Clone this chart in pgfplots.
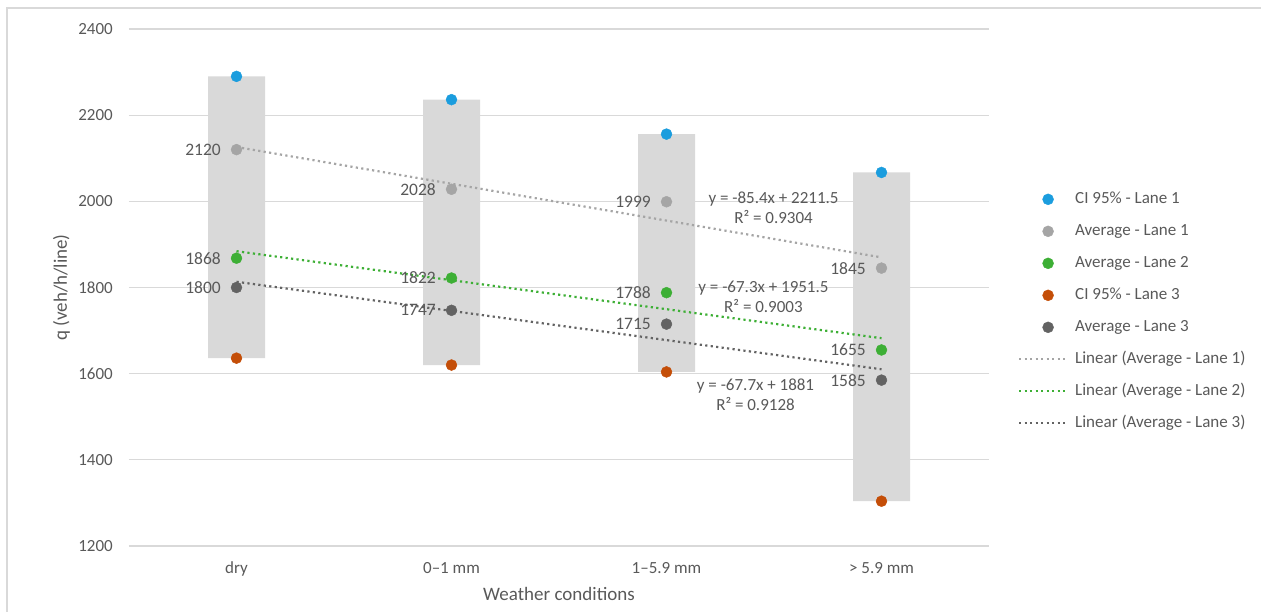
\documentclass[border=0pt]{standalone}
\usepackage{pgfplots}
\pgfplotsset{compat=1.18}
\usepackage{pgfplotstable}
\usepackage{fontspec}
\setmainfont{Carlito}
\definecolor{txt}{HTML}{595959}
\definecolor{cblue}{HTML}{1B9DDE}
\definecolor{clgray}{HTML}{A5A5A5}
\definecolor{cgreen}{HTML}{3DAF35}
\definecolor{corange}{HTML}{C44E08}
\definecolor{cdgray}{HTML}{636363}
\definecolor{cbar}{HTML}{D9D9D9}
\definecolor{cgrid}{HTML}{D9D9D9}
\pgfplotsset{
  markleg/.style={legend image code/.code={\path[draw=none, fill=none] (0pt,0pt) -- (47pt,0pt); \draw[##1] plot coordinates {(29pt,0pt)};}},
  lineleg/.style={legend image code/.code={\draw[##1] (0pt,0pt) -- (47pt,0pt);}},
}
\pgfplotstableread{
x  lo    hi    avgA  avgB  avgC
1  1636  2290  2120  1868  1800
2  1620  2236  2028  1822  1747
3  1604  2156  1999  1788  1715
4  1304  2067  1845  1655  1585
}\datatab
\begin{document}
\begin{tikzpicture}[x=1pt,y=1pt]
\useasboundingbox (0,0) rectangle (1261,612);
\draw[cgrid, line width=1.2pt] (7,0) -- (7,604) -- (1261,604);
\begin{axis}[
  at={(129pt,66pt)}, anchor=south west,
  scale only axis, width=860pt, height=517pt,
  xmin=0.5, xmax=4.5, ymin=1200, ymax=2400,
  xtick={1,2,3,4}, xticklabels={dry, 0–1 mm, 1–5.9 mm, > 5.9 mm},
  ytick={1200,1400,...,2400},
  ymajorgrids, grid style={cgrid, line width=1.3pt},
  axis line style={draw=none}, major tick length=0pt,
  tick label style={font=\fontsize{17}{20}\selectfont, text=txt},
  /pgf/number format/assume math mode=true,
  /pgf/number format/1000 sep={},
  yticklabel style={inner sep=0pt, xshift=-16pt},
  xticklabel style={inner sep=0pt, text height=12pt, text depth=4pt, yshift=-15pt},
  xlabel={Weather conditions}, ylabel={q (veh/h/line)},
  label style={font=\fontsize{19}{22}\selectfont, text=txt},
  xlabel style={at={(axis description cs:0.5,0)}, anchor=base, yshift=-55pt},
  ylabel style={at={(axis description cs:-0.0721,0.5)}, anchor=base},
  legend style={draw=none, fill=none, inner sep=0pt, outer sep=0pt,
    at={(axis description cs:1.0337,0.686)}, anchor=north west,
    font=\fontsize{17}{20}\selectfont, text=txt,
    nodes={inner sep=0pt, text height=12pt, text depth=4pt},
    row sep=16pt, /tikz/every odd column/.append style={column sep=8pt}},
  legend cell align=left,
  clip=false,
  nodes near coords style={font=\fontsize{17.5}{20}\selectfont, text=txt, inner sep=0pt, anchor=east, xshift=-15.5pt, yshift=0pt},
]
% floating CI bars
\addplot[ybar, bar width=57pt, draw=none, fill=none, stack plots=y, forget plot] table[x=x, y=lo] {\datatab};
\addplot[ybar, bar width=57pt, draw=none, fill=cbar, stack plots=y, forget plot] table[x=x, y expr=\thisrow{hi}-\thisrow{lo}] {\datatab};
% points
\addplot[only marks, mark=*, mark size=5.5pt, cblue, markleg]
  table[x=x, y=hi] {\datatab};
\addlegendentry{CI 95\% - Lane 1}
\addplot[only marks, mark=*, mark size=5.5pt, clgray, markleg,
  nodes near coords, nodes near coords align={anchor=east}]
  table[x=x, y=avgA] {\datatab};
\addlegendentry{Average - Lane 1}
\addplot[only marks, mark=*, mark size=5.5pt, cgreen, markleg,
  nodes near coords, nodes near coords align={anchor=east}]
  table[x=x, y=avgB] {\datatab};
\addlegendentry{Average - Lane 2}
\addplot[only marks, mark=*, mark size=5.5pt, corange, markleg]
  table[x=x, y=lo] {\datatab};
\addlegendentry{CI 95\% - Lane 3}
\addplot[only marks, mark=*, mark size=5.5pt, cdgray, markleg,
  nodes near coords, nodes near coords align={anchor=east}]
  table[x=x, y=avgC] {\datatab};
\addlegendentry{Average - Lane 3}
% linear trend lines
\addplot[clgray, line width=2.2pt, dash pattern=on 2.2pt off 3.3pt, mark=none, lineleg]
  coordinates {(1,2126.1) (4,1869.9)};
\addlegendentry{Linear (Average - Lane 1)}
\addplot[cgreen, line width=2.2pt, dash pattern=on 2.2pt off 3.3pt, mark=none, lineleg]
  coordinates {(1,1884.2) (4,1682.3)};
\addlegendentry{Linear (Average - Lane 2)}
\addplot[cdgray, line width=2.2pt, dash pattern=on 2.2pt off 3.3pt, mark=none, lineleg]
  coordinates {(1,1813.3) (4,1610.2)};
\addlegendentry{Linear (Average - Lane 3)}
% trend line equations
\node[align=center, font=\fontsize{17}{20}\selectfont, text=txt] at (axis cs:3.498,1984.5) {y = -85.4x + 2211.5\\R² = 0.9304};
\node[align=center, font=\fontsize{17}{20}\selectfont, text=txt] at (axis cs:3.451,1778) {y = -67.3x + 1951.5\\R² = 0.9003};
\node[align=center, font=\fontsize{17}{20}\selectfont, text=txt] at (axis cs:3.414,1550) {y = -67.7x + 1881\\R² = 0.9128};
\end{axis}
\end{tikzpicture}
\end{document}
